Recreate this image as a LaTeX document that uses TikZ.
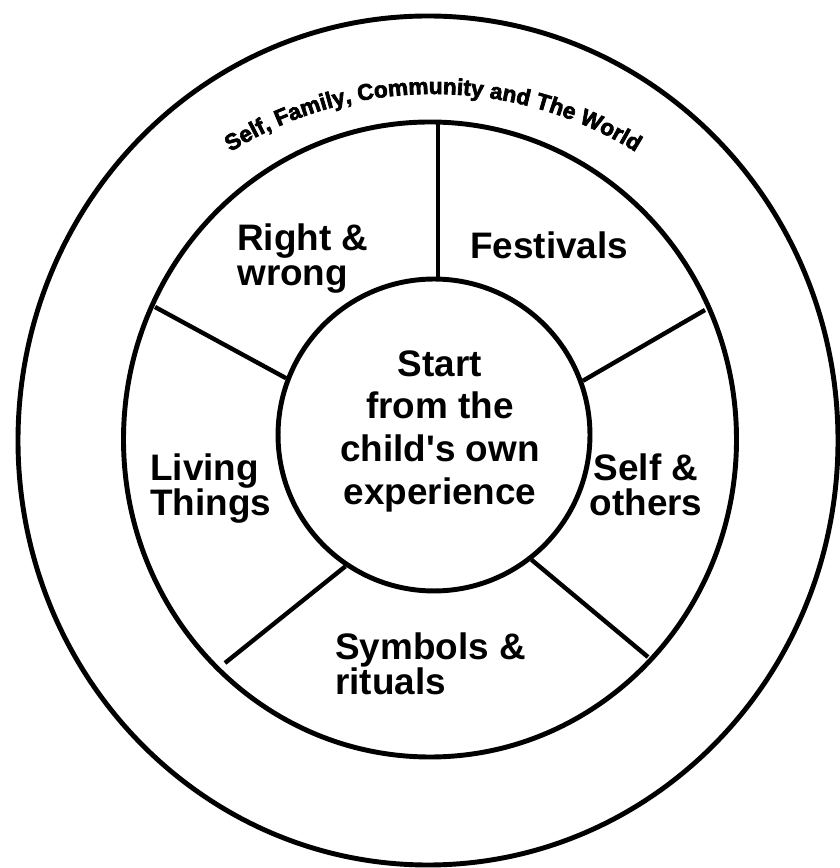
\documentclass[tikz,border=0pt]{standalone}
\usepackage{fontspec}
\setmainfont{Liberation Sans}
\newfontfamily\worldfont[FakeBold=3]{Liberation Sans}
\usepackage{tikz}
\usetikzlibrary{decorations.text}

\begin{document}
\begin{tikzpicture}[x=0.02cm, y=0.02cm,
    ring/.style={line width=2.8pt},
    spoke/.style={line width=2.5pt},
    topic/.style={inner sep=0pt, align=left, font=\fontsize{21}{20}\selectfont\bfseries}]
  \useasboundingbox (0,0) rectangle (839,868);

  \draw[ring] (428,427.5) ellipse [x radius=410, y radius=424.5];
  \draw[ring] (430,428.5) ellipse [x radius=306.5, y radius=317.5];
  \node[circle, draw, ring, minimum size=6.24cm, inner sep=0pt] (core) at (434,433) {};
  \node[inner sep=0pt, align=center, anchor=north, font=\fontsize{21}{24.4}\selectfont\bfseries]
    (start) at (440,518) {Start\\from the\\child\textquotesingle s own\\experience};

  \coordinate (t) at (438,746);
  \coordinate (ul) at (155,561);
  \coordinate (ur) at (705,558);
  \coordinate (ll) at (225,205);
  \coordinate (lr) at (648,211);
  \draw[spoke] (t) -- (t |- core.north);
  \draw[spoke] (ul) -- (core.159);
  \draw[spoke] (ur) -- (core.20);
  \draw[spoke] (ll) -- (core.236);
  \draw[spoke] (lr) -- (core.308);

  \node[topic, anchor=north west] (right) at (237,645) {Right \&\\wrong};
  \node[topic, anchor=north west] (fest) at (470,637) {Festivals};
  \node[topic, anchor=north west] (living) at (150,415) {Living\\Things};
  \node[topic, anchor=north, align=center] (self) at (646,415) {Self \&\\others};
  \node[topic, anchor=north west] (symb) at (335,236) {Symbols \&\\rituals};

  \path[decorate, decoration={text along path, text align=center,
      text={|\worldfont\bfseries\fontsize{12.9}{14}\selectfont|Self, Family, Community and The World}}]
    (433,391) ++(122:383) arc[start angle=122, end angle=58, radius=383];
\end{tikzpicture}
\end{document}
